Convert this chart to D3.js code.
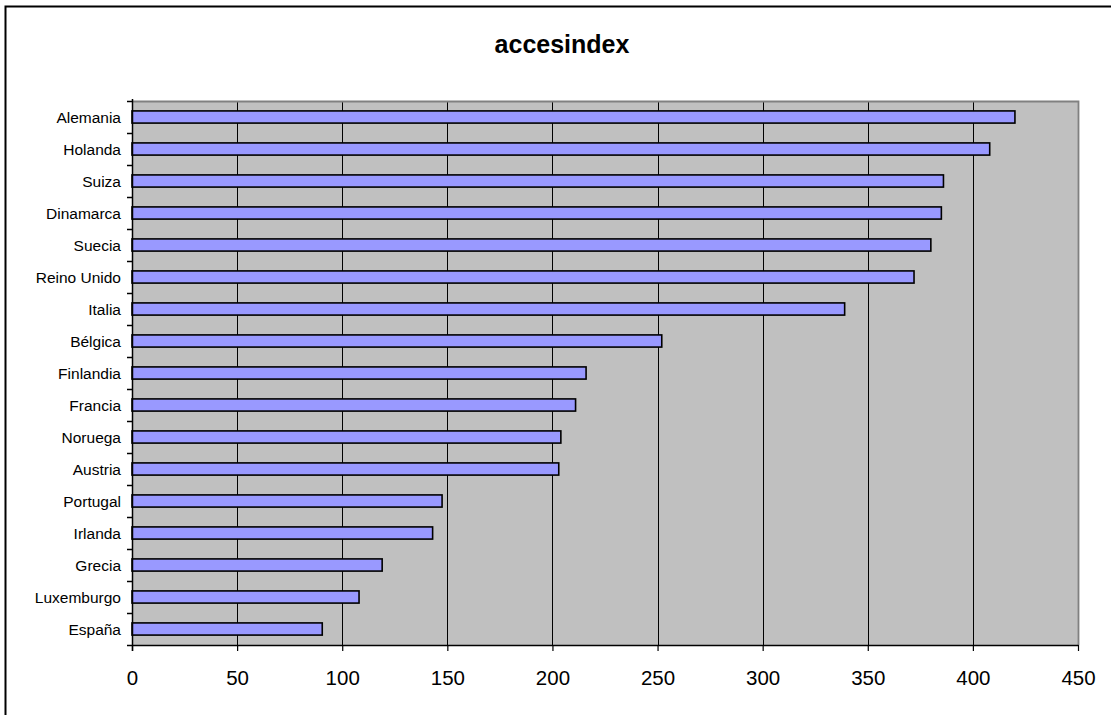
<!DOCTYPE html>
<html>
<head>
<meta charset="utf-8">
<script src="https://cdn.jsdelivr.net/npm/d3@7"></script>
<style>
  html, body { margin: 0; padding: 0; background: #fff; }
  svg { display: block; font-family: Arial, "Liberation Sans", sans-serif; }
</style>
</head>
<body>
<svg id="chart" width="1111" height="715"></svg>
<script>
// Countries, top to bottom, and their accesindex values
const countries = ["Alemania", "Holanda", "Suiza", "Dinamarca", "Suecia", "Reino Unido", "Italia",
  "Bélgica", "Finlandia", "Francia", "Noruega", "Austria", "Portugal", "Irlanda", "Grecia",
  "Luxemburgo", "España"];
const accesindex = [420, 408, 386, 385, 380, 372, 339, 252, 216, 211, 204, 203, 147.5, 143, 119, 108, 90.5];
const xTicks = [0, 50, 100, 150, 200, 250, 300, 350, 400, 450];
const title = "accesindex";

const svg = d3.select("#chart");
const W = 1111, H = 715;
const plot = { left: 132, top: 101, right: 1078, bottom: 645 };

// Outer chart frame (its right and bottom edges fall outside the page)
svg.append("rect")
  .attr("x", 5.5).attr("y", 6.5)
  .attr("width", W + 20).attr("height", H + 20)
  .attr("fill", "#fff").attr("stroke", "#000").attr("stroke-width", 2);

const x = d3.scaleLinear().domain([0, 450]).range([plot.left, plot.right]);
const y = d3.scaleBand().domain(countries).range([plot.top, plot.bottom]).paddingInner(0.62).paddingOuter(0.31);
const yRow = d3.scaleBand().domain(countries).range([plot.top, plot.bottom]);

// Plot background
svg.append("rect")
  .attr("x", plot.left).attr("y", plot.top)
  .attr("width", plot.right - plot.left).attr("height", plot.bottom - plot.top)
  .attr("fill", "#c0c0c0");

// Vertical gridlines
svg.append("g").selectAll("line")
  .data(xTicks.filter(d => d > 0 && d < 450))
  .join("line")
  .attr("x1", d => Math.round(x(d)) + 0.5).attr("x2", d => Math.round(x(d)) + 0.5)
  .attr("y1", plot.top).attr("y2", plot.bottom)
  .attr("stroke", "#000").attr("stroke-width", 1);

// Plot border: grey on top and right
svg.append("path")
  .attr("d", `M${plot.left},${plot.top + 0.5}H${plot.right + 0.5}V${plot.bottom}`)
  .attr("fill", "none").attr("stroke", "#808080").attr("stroke-width", 1.8);

// Bars
svg.append("g").selectAll("rect")
  .data(countries.map((c, i) => ({ c, v: accesindex[i] })))
  .join("rect")
  .attr("x", x(0))
  .attr("y", d => y(d.c))
  .attr("width", d => x(d.v) - x(0))
  .attr("height", y.bandwidth())
  .attr("fill", "#9999ff")
  .attr("stroke", "#000")
  .attr("stroke-width", 1.6);

// X axis
const xAxis = svg.append("g")
  .attr("transform", `translate(0,${plot.bottom})`)
  .call(d3.axisBottom(x).tickValues(xTicks).tickSize(6).tickSizeOuter(0).tickPadding(19));
xAxis.select(".domain").attr("stroke", "#000").attr("stroke-width", 1.5);
xAxis.selectAll(".tick line").attr("stroke", "#000").attr("stroke-width", 1.2);
xAxis.selectAll(".tick text")
  .attr("font-size", 20.5).attr("fill", "#000")
  .attr("font-family", "Arial, 'Liberation Sans', sans-serif");

// Y axis line with ticks at row boundaries
const yAxisG = svg.append("g");
yAxisG.append("line")
  .attr("x1", plot.left + 0.5).attr("x2", plot.left + 0.5)
  .attr("y1", plot.top - 2).attr("y2", plot.bottom + 6)
  .attr("stroke", "#000").attr("stroke-width", 1.5);
const boundaries = countries.map(c => yRow(c)).concat([plot.bottom]);
yAxisG.selectAll("line.tk")
  .data(boundaries)
  .join("line")
  .attr("class", "tk")
  .attr("x1", plot.left - 5).attr("x2", plot.left)
  .attr("y1", d => Math.round(d) + 0.5).attr("y2", d => Math.round(d) + 0.5)
  .attr("stroke", "#000").attr("stroke-width", 1.5);

// Category labels
yAxisG.selectAll("text")
  .data(countries)
  .join("text")
  .attr("x", plot.left - 11)
  .attr("y", d => yRow(d) + yRow.bandwidth() / 2)
  .attr("dy", "0.36em")
  .attr("text-anchor", "end")
  .attr("font-size", 15.5)
  .attr("fill", "#000")
  .text(d => d);

// Title
svg.append("text")
  .attr("x", 562).attr("y", 53)
  .attr("text-anchor", "middle")
  .attr("font-size", 25)
  .attr("font-weight", "bold")
  .attr("fill", "#000")
  .text(title);
</script>
</body>
</html>
